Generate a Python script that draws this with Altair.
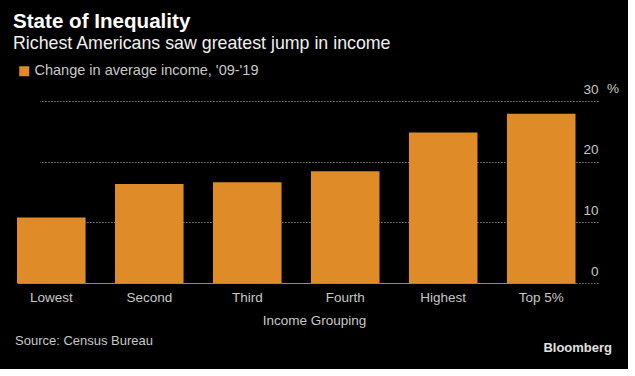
import altair as alt
import pandas as pd

groups = ["Lowest", "Second", "Third", "Fourth", "Highest", "Top 5%"]
values = [10.8, 16.3, 16.6, 18.4, 24.8, 27.9]
series_name = "Change in average income, '09-'19"
y_ticks = [0, 10, 20, 30]

df = pd.DataFrame({"group": groups, "value": values, "series": [series_name] * len(groups)})

FONT = "Liberation Sans"
W, H = 581, 182
ORANGE = "#DF8B27"
LABEL = "#C8C8C8"

bars = alt.Chart(df).mark_bar(color=ORANGE).encode(
    x=alt.X("group:N", sort=groups,
            scale=alt.Scale(range=[0, 558.5], paddingInner=0.3, paddingOuter=0),
            axis=alt.Axis(title="Income Grouping", labelAngle=0, ticks=False,
                          domainColor="#8a8a8a", domainWidth=1,
                          labelColor=LABEL, labelFontSize=13.5, labelFont=FONT, labelPadding=7,
                          titleColor=LABEL, titleFontSize=13.5, titleFont=FONT, titleFontWeight="normal",
                          titlePadding=10, titleX=297, titleAlign="center")),
    y=alt.Y("value:Q", scale=alt.Scale(domain=[0, 30]),
            axis=alt.Axis(title=None, orient="right", values=y_ticks, ticks=False, domain=False,
                          grid=True, gridColor="#9a9a9a", gridDash=[1.2, 1.8], gridWidth=1.2,
                          labelAlign="right", labelBaseline="bottom", labelPadding=0, labelOffset=-5,
                          labelColor=LABEL, labelFontSize=13.5, labelFont=FONT)),
    fill=alt.Fill("series:N", scale=alt.Scale(range=[ORANGE]),
                  legend=alt.Legend(title=None, orient="none", legendX=0, legendY=-37,
                                    symbolType="square", symbolSize=100, symbolStrokeWidth=0,
                                    labelColor=LABEL, labelFontSize=14.5, labelFont=FONT,
                                    labelOffset=3, labelLimit=400)),
)

pct = alt.Chart(pd.DataFrame({"v": [30], "t": ["%"]})).mark_text(
    color=LABEL, fontSize=13.5, font=FONT, align="left", baseline="bottom", dy=-5
).encode(x=alt.value(W + 9), y=alt.Y("v:Q"), text="t:N")

source = alt.Chart(pd.DataFrame({"t": ["Source: Census Bureau"]})).mark_text(
    color=LABEL, fontSize=13, font=FONT, align="left", baseline="middle"
).encode(x=alt.value(-2), y=alt.value(H + 58), text="t:N")

brand = alt.Chart(pd.DataFrame({"t": ["Bloomberg"]})).mark_text(
    color="#E0E0E0", fontSize=13, font=FONT, fontWeight="bold", align="right", baseline="middle"
).encode(x=alt.value(W + 14), y=alt.value(H + 65), text="t:N")

chart = alt.layer(bars, pct, source, brand).properties(
    width=W, height=H,
    title=alt.TitleParams(
        text="State of Inequality",
        subtitle="Richest Americans saw greatest jump in income",
        anchor="start", frame="group", dx=-4,
        font=FONT, fontSize=20.6, fontWeight="bold", color="#FFFFFF",
        subtitleFont=FONT, subtitleFontSize=17.8, subtitleColor="#F0F0F0", subtitlePadding=3,
        offset=11,
    ),
    background="#000000",
    autosize=alt.AutoSizeParams(type="none"),
    padding={"left": 17, "top": 101, "right": 30, "bottom": 86},
).configure_view(stroke=None)

chart.save("out.html", embed_options={"renderer": "svg", "actions": False})
